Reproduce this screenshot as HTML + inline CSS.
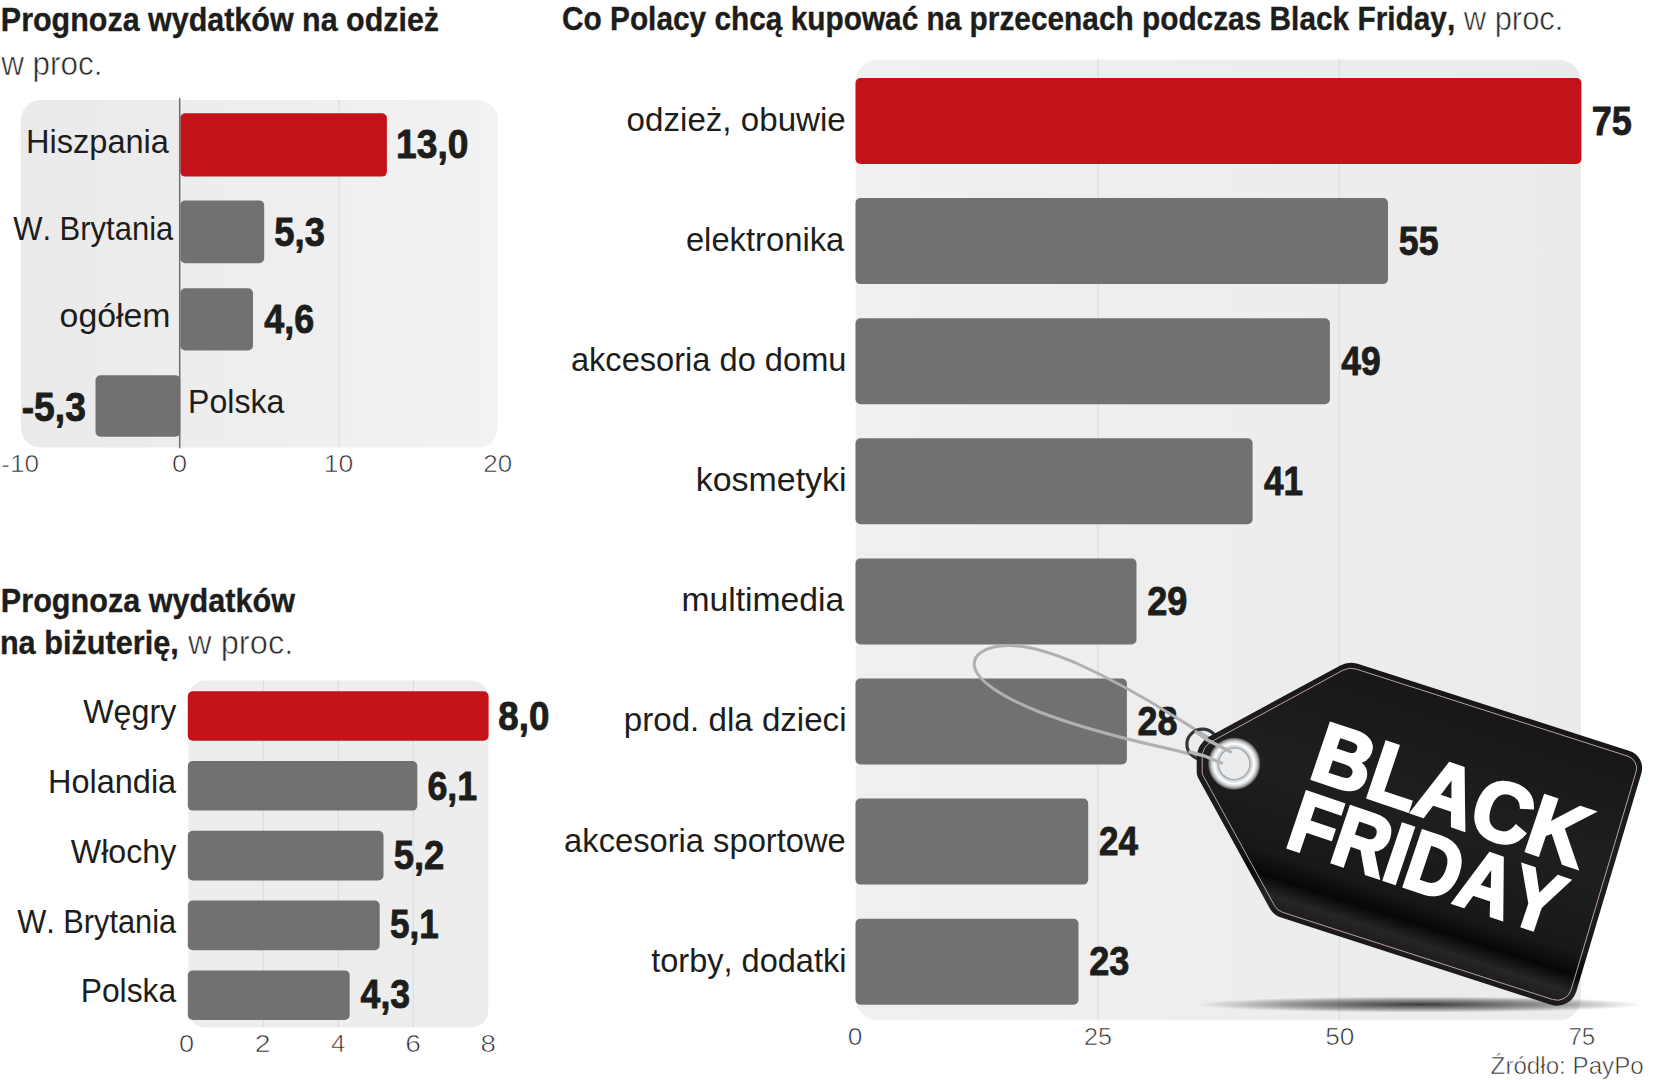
<!DOCTYPE html>
<html lang="pl"><head><meta charset="utf-8"><title>Black Friday</title>
<style>
html,body{margin:0;padding:0;background:#fff;}
body{width:1659px;height:1080px;overflow:hidden;}
svg{display:block;font-family:"Liberation Sans",sans-serif;font-kerning:none;fill:#1d1d1b;}
.b{font-weight:700;stroke:#1d1d1b;stroke-width:.35px;}
.v{stroke:#1d1d1b;stroke-width:.9px;stroke-linejoin:round;}
.lt{stroke:#fff;stroke-width:.6px;paint-order:fill stroke;fill:#2a2a2a;}
</style></head><body>
<svg width="1659" height="1080" viewBox="0 0 1659 1080">
<defs>
<linearGradient id="pg1" x1="0" x2="1" y1="0" y2="0"><stop offset="0" stop-color="#eaeaea"/><stop offset="1" stop-color="#f2f2f2"/></linearGradient>
<linearGradient id="pg3" x1="0" x2="1" y1="0" y2="0"><stop offset="0" stop-color="#f0f0f0"/><stop offset="1" stop-color="#ebebeb"/></linearGradient>
<radialGradient id="ring" cx="0.5" cy="0.5" r="0.5"><stop offset="0.585" stop-color="#8797a3"/><stop offset="0.64" stop-color="#c9d0d5"/><stop offset="0.76" stop-color="#ffffff"/><stop offset="0.87" stop-color="#c9c9c9"/><stop offset="0.95" stop-color="#7c7c7c"/><stop offset="1" stop-color="#2c2c2c"/></radialGradient>
<linearGradient id="tagg" gradientUnits="userSpaceOnUse" x1="1348.6" y1="660.9" x2="1266.7" y2="912.9"><stop offset="0" stop-color="#171717"/><stop offset="0.45" stop-color="#1f1f1f"/><stop offset="0.78" stop-color="#181818"/><stop offset="0.865" stop-color="#070707"/><stop offset="0.93" stop-color="#262626"/><stop offset="1" stop-color="#191919"/></linearGradient>
<radialGradient id="shad" cx="0.5" cy="0.5" r="0.5"><stop offset="0" stop-color="#000" stop-opacity="0.75"/><stop offset="0.6" stop-color="#000" stop-opacity="0.35"/><stop offset="1" stop-color="#000" stop-opacity="0"/></radialGradient>
</defs>

<g id="chart1">
<text x="0.86" y="31.3" font-size="33" textLength="438.24" lengthAdjust="spacingAndGlyphs" class="b">Prognoza wydatków na odzież</text>
<text x="1.15" y="74.7" font-size="33.5" textLength="101.32" lengthAdjust="spacingAndGlyphs" class="lt">w proc.</text>
<rect x="21" y="100" width="476.8" height="347.5" rx="20" fill="url(#pg1)"/>
<line x1="339" y1="100" x2="339" y2="447.5" stroke="#d3dae0" stroke-width="1"/>
<rect x="180.3" y="113.2" width="206.6" height="63.4" rx="5" fill="#c4121b"/>
<rect x="180.3" y="200.4" width="83.9" height="62.9" rx="5" fill="#717171"/>
<rect x="180.3" y="288.2" width="72.7" height="62.2" rx="5" fill="#717171"/>
<rect x="95.5" y="375.3" width="84.8" height="61.5" rx="5" fill="#717171"/>
<line x1="179.7" y1="98" x2="179.7" y2="448.3" stroke="#697177" stroke-width="1.5"/>
<text x="25.93" y="153.0" font-size="34" textLength="143.07" lengthAdjust="spacingAndGlyphs">Hiszpania</text>
<text x="13.16" y="240.0" font-size="34" textLength="160.14" lengthAdjust="spacingAndGlyphs">W. Brytania</text>
<text x="59.58" y="327.3" font-size="34" textLength="110.95" lengthAdjust="spacingAndGlyphs">ogółem</text>
<text x="188.07" y="413.3" font-size="34" textLength="96.23" lengthAdjust="spacingAndGlyphs">Polska</text>
<text x="396.11" y="158.3" font-size="41.5" textLength="72.37" lengthAdjust="spacingAndGlyphs" class="b v">13,0</text>
<text x="274.33" y="246.0" font-size="41.5" textLength="50.53" lengthAdjust="spacingAndGlyphs" class="b v">5,3</text>
<text x="264.21" y="332.8" font-size="41.5" textLength="49.94" lengthAdjust="spacingAndGlyphs" class="b v">4,6</text>
<text x="21.69" y="420.5" font-size="41.5" textLength="64.20" lengthAdjust="spacingAndGlyphs" class="b v">-5,3</text>
<text x="1.24" y="471.7" font-size="23" textLength="37.78" lengthAdjust="spacingAndGlyphs" class="lt">-10</text>
<text x="171.94" y="471.7" font-size="23" textLength="15.12" lengthAdjust="spacingAndGlyphs" class="lt">0</text>
<text x="323.67" y="471.7" font-size="23" textLength="29.67" lengthAdjust="spacingAndGlyphs" class="lt">10</text>
<text x="483.39" y="471.7" font-size="23" textLength="28.92" lengthAdjust="spacingAndGlyphs" class="lt">20</text>
</g>
<g id="chart2">
<text x="0.85" y="611.7" font-size="33" textLength="294.09" lengthAdjust="spacingAndGlyphs" class="b">Prognoza wydatków</text>
<text x="-0.12" y="654.3" font-size="33" textLength="178.87" lengthAdjust="spacingAndGlyphs" class="b">na biżuterię,</text>
<text x="188.05" y="654.3" font-size="33.5" textLength="105.23" lengthAdjust="spacingAndGlyphs" class="lt">w proc.</text>
<rect x="188.3" y="680.6" width="300.1" height="346.8" rx="17" fill="#ededed"/>
<line x1="263.3" y1="680" x2="263.3" y2="1027.3" stroke="#d3dae0" stroke-width="1"/>
<line x1="338.3" y1="680" x2="338.3" y2="1027.3" stroke="#d3dae0" stroke-width="1"/>
<line x1="413.3" y1="680" x2="413.3" y2="1027.3" stroke="#d3dae0" stroke-width="1"/>
<rect x="187.8" y="691.2" width="300.8" height="49.6" rx="5" fill="#c4121b"/>
<text x="83.16" y="723.3" font-size="34" textLength="93.10" lengthAdjust="spacingAndGlyphs">Węgry</text>
<text x="498.28" y="729.5" font-size="41.5" textLength="51.07" lengthAdjust="spacingAndGlyphs" class="b v">8,0</text>
<rect x="187.8" y="761.0" width="229.5" height="49.6" rx="5" fill="#717171"/>
<text x="48.04" y="792.7" font-size="34" textLength="128.16" lengthAdjust="spacingAndGlyphs">Holandia</text>
<text x="427.44" y="799.5" font-size="41.5" textLength="49.81" lengthAdjust="spacingAndGlyphs" class="b v">6,1</text>
<rect x="187.8" y="830.8" width="195.7" height="49.6" rx="5" fill="#717171"/>
<text x="70.86" y="862.5" font-size="34" textLength="105.40" lengthAdjust="spacingAndGlyphs">Włochy</text>
<text x="393.63" y="868.8" font-size="41.5" textLength="50.68" lengthAdjust="spacingAndGlyphs" class="b v">5,2</text>
<rect x="187.8" y="900.6" width="191.9" height="49.6" rx="5" fill="#717171"/>
<text x="17.16" y="933.3" font-size="34" textLength="159.04" lengthAdjust="spacingAndGlyphs">W. Brytania</text>
<text x="390.07" y="938.3" font-size="41.5" textLength="48.76" lengthAdjust="spacingAndGlyphs" class="b v">5,1</text>
<rect x="187.8" y="970.4" width="161.9" height="49.6" rx="5" fill="#717171"/>
<text x="80.69" y="1002.3" font-size="34" textLength="95.51" lengthAdjust="spacingAndGlyphs">Polska</text>
<text x="360.61" y="1007.5" font-size="41.5" textLength="49.53" lengthAdjust="spacingAndGlyphs" class="b v">4,3</text>
<text x="179.14" y="1052.3" font-size="23" textLength="15.12" lengthAdjust="spacingAndGlyphs" class="lt">0</text>
<text x="254.76" y="1052.3" font-size="23" textLength="15.87" lengthAdjust="spacingAndGlyphs" class="lt">2</text>
<text x="330.91" y="1052.3" font-size="23" textLength="14.35" lengthAdjust="spacingAndGlyphs" class="lt">4</text>
<text x="405.37" y="1052.3" font-size="23" textLength="15.67" lengthAdjust="spacingAndGlyphs" class="lt">6</text>
<text x="480.60" y="1052.3" font-size="23" textLength="15.41" lengthAdjust="spacingAndGlyphs" class="lt">8</text>
</g>
<g id="chart3">
<text x="561.98" y="29.8" font-size="33" textLength="893.22" lengthAdjust="spacingAndGlyphs" class="b">Co Polacy chcą kupować na przecenach podczas Black Friday,</text>
<text x="1463.75" y="29.8" font-size="33.5" textLength="99.68" lengthAdjust="spacingAndGlyphs" class="lt">w proc.</text>
<rect x="855.7" y="59.8" width="725.3" height="960.4" rx="22" fill="url(#pg3)"/>
<line x1="1098" y1="59.5" x2="1098" y2="1020.3" stroke="#d3dae0" stroke-width="1"/>
<line x1="1339.3" y1="59.5" x2="1339.3" y2="1020.3" stroke="#d3dae0" stroke-width="1"/>
<rect x="855.5" y="78.0" width="725.9" height="86.0" rx="5" fill="#c4121b"/>
<text x="626.61" y="130.6" font-size="34" textLength="219.16" lengthAdjust="spacingAndGlyphs">odzież, obuwie</text>
<text x="1591.75" y="134.6" font-size="41.5" textLength="40.16" lengthAdjust="spacingAndGlyphs" class="b v">75</text>
<rect x="855.5" y="198.1" width="532.5" height="86.0" rx="5" fill="#717171"/>
<text x="685.91" y="250.8" font-size="34" textLength="158.39" lengthAdjust="spacingAndGlyphs">elektronika</text>
<text x="1398.80" y="254.7" font-size="41.5" textLength="39.69" lengthAdjust="spacingAndGlyphs" class="b v">55</text>
<rect x="855.5" y="318.2" width="474.4" height="86.0" rx="5" fill="#717171"/>
<text x="570.91" y="370.9" font-size="34" textLength="275.55" lengthAdjust="spacingAndGlyphs">akcesoria do domu</text>
<text x="1341.34" y="374.8" font-size="41.5" textLength="39.45" lengthAdjust="spacingAndGlyphs" class="b v">49</text>
<rect x="855.5" y="438.3" width="397.1" height="86.0" rx="5" fill="#717171"/>
<text x="695.71" y="491.1" font-size="34" textLength="150.87" lengthAdjust="spacingAndGlyphs">kosmetyki</text>
<text x="1263.99" y="494.9" font-size="41.5" textLength="39.11" lengthAdjust="spacingAndGlyphs" class="b v">41</text>
<rect x="855.5" y="558.4" width="281.0" height="86.0" rx="5" fill="#717171"/>
<text x="681.46" y="611.2" font-size="34" textLength="162.84" lengthAdjust="spacingAndGlyphs">multimedia</text>
<text x="1147.23" y="615.0" font-size="41.5" textLength="40.19" lengthAdjust="spacingAndGlyphs" class="b v">29</text>
<rect x="855.5" y="678.5" width="271.4" height="86.0" rx="5" fill="#717171"/>
<text x="623.87" y="731.4" font-size="34" textLength="222.66" lengthAdjust="spacingAndGlyphs">prod. dla dzieci</text>
<text x="1137.56" y="735.1" font-size="41.5" textLength="39.95" lengthAdjust="spacingAndGlyphs" class="b v">28</text>
<rect x="855.5" y="798.6" width="232.7" height="86.0" rx="5" fill="#717171"/>
<text x="564.11" y="851.5" font-size="34" textLength="281.64" lengthAdjust="spacingAndGlyphs">akcesoria sportowe</text>
<text x="1098.91" y="855.2" font-size="41.5" textLength="39.00" lengthAdjust="spacingAndGlyphs" class="b v">24</text>
<rect x="855.5" y="918.7" width="223.0" height="86.0" rx="5" fill="#717171"/>
<text x="651.21" y="971.7" font-size="34" textLength="195.28" lengthAdjust="spacingAndGlyphs">torby, dodatki</text>
<text x="1089.21" y="975.3" font-size="41.5" textLength="40.16" lengthAdjust="spacingAndGlyphs" class="b v">23</text>
<text x="847.67" y="1045.0" font-size="23" textLength="14.66" lengthAdjust="spacingAndGlyphs" class="lt">0</text>
<text x="1083.94" y="1045.0" font-size="23" textLength="27.92" lengthAdjust="spacingAndGlyphs" class="lt">25</text>
<text x="1325.15" y="1045.0" font-size="23" textLength="29.17" lengthAdjust="spacingAndGlyphs" class="lt">50</text>
<text x="1568.46" y="1045.0" font-size="23" textLength="26.85" lengthAdjust="spacingAndGlyphs" class="lt">75</text>
<text x="1490.63" y="1074.0" font-size="23" textLength="153.08" lengthAdjust="spacingAndGlyphs" class="lt">Źródło: PayPo</text>
</g>
<g id="tag">
<ellipse cx="1420" cy="1004.5" rx="224" ry="8" fill="url(#shad)"/>
<path d="M1231 751.5 C1212 740 1190 726 1172 715 C1140 695 1105 676 1076 663 C1045 650 1025 645 1008 645.5 C985 646 972 655 974.5 667 C977 680 1000 696 1037 711 C1075 726 1120 738 1172 749.5 C1195 755 1210 760 1222 763.5" fill="none" stroke="#b0b0b0" stroke-width="3" stroke-linecap="round"/>
<ellipse cx="1202.5" cy="744.2" rx="15.6" ry="15" fill="none" stroke="#30363a" stroke-width="3.2"/>
<path d="M1196.7 757.7 A24.0 24.0 0 0 1 1209.2 736.6 L1340.3 665.4 A22.0 22.0 0 0 1 1357.6 663.8 L1629.6 750.9 A18.0 18.0 0 0 1 1641.4 773.2 L1576.3 991.4 A20.0 20.0 0 0 1 1551.0 1004.7 L1281.1 917.6 A20.0 20.0 0 0 1 1269.7 908.2 L1198.2 778.1 A12.0 12.0 0 0 1 1196.7 772.3 Z" fill="url(#tagg)"/>
<path d="M1202.2 757.7 A18.5 18.5 0 0 1 1211.9 741.4 L1343.0 670.2 A16.5 16.5 0 0 1 1355.9 669.0 L1627.9 756.2 A12.5 12.5 0 0 1 1636.1 771.6 L1571.1 989.8 A14.5 14.5 0 0 1 1552.7 999.5 L1282.8 912.4 A14.5 14.5 0 0 1 1274.5 905.6 L1203.0 775.5 A6.5 6.5 0 0 1 1202.2 772.3 Z" fill="none" stroke="#cdb0a8" stroke-width="0.9"/>
<circle cx="1234.2" cy="763.7" r="26.3" fill="url(#ring)"/>
<circle cx="1234.2" cy="763.7" r="15.2" fill="#ececec"/>
<path d="M1196 731.8 L1207.5 740 L1230.5 751.8" stroke="#b4b4b4" stroke-width="3.4" stroke-linecap="round" stroke-linejoin="round" fill="none"/>
<path d="M1190 752 L1204 755.8 L1221.5 763" stroke="#b4b4b4" stroke-width="3.4" stroke-linecap="round" stroke-linejoin="round" fill="none"/>
<g transform="translate(1310.8 778.3) rotate(18.6)" font-size="84.5" font-weight="700" fill="#fff" stroke="#fff" stroke-width="3.5" stroke-linejoin="miter">
<text x="-3.7" y="0" textLength="284.7" lengthAdjust="spacingAndGlyphs">BLACK</text>
<text x="-4.3" y="72.5" textLength="282.8" lengthAdjust="spacingAndGlyphs">FRIDAY</text>
</g>
</g>
</svg></body></html>
